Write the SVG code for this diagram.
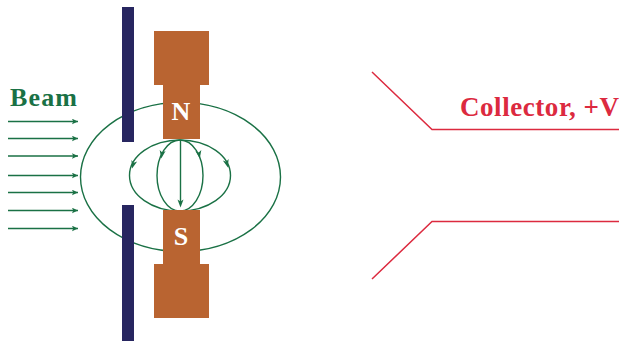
<svg xmlns="http://www.w3.org/2000/svg" width="619" height="345" viewBox="0 0 619 345">
<style>
.plate{fill:#272660}
.mag{fill:#b96431}
.fl{fill:none;stroke:#1a7145;stroke-width:1.4}
.ray{fill:none;stroke:#1a7145;stroke-width:1.3;marker-end:url(#a)}
.red{fill:none;stroke:#dc2a3f;stroke-width:1.5}
text{font-family:"Liberation Serif",serif;font-weight:bold}
.pole{font-size:26px;fill:#fff;text-anchor:middle}
</style>
<defs>
<marker id="a" markerUnits="userSpaceOnUse" markerWidth="7" markerHeight="6" refX="6" refY="3" orient="auto"><path d="M0 0.2L6 3L0 5.800L1.200 3Z" fill="#1a7145"/></marker>
<path id="h" d="M-3 -6.500L0 -4.500L3 -6.500L0 1.500Z" fill="#1a7145"/>
</defs>
<g id="connectors">
<ellipse class="fl" cx="180.500" cy="177" rx="100" ry="74.500"/>
<ellipse class="fl" cx="180" cy="175.500" rx="50.500" ry="35.500"/>
<ellipse class="fl" cx="180" cy="175.500" rx="23" ry="35.500"/>
<path class="fl" d="M180.500 140V203"/>
<use href="#h" transform="translate(180.500 206)"/>
<use href="#h" transform="translate(132.500 167) rotate(16)"/>
<use href="#h" transform="translate(161.500 157) rotate(10)"/>
<use href="#h" transform="translate(199.500 157) rotate(-10)"/>
<use href="#h" transform="translate(227.500 166) rotate(-16)"/>
<path class="ray" d="M8 121.500H78"/>
<path class="ray" d="M8 138.500H78"/>
<path class="ray" d="M8 156H78"/>
<path class="ray" d="M8 175.500H78"/>
<path class="ray" d="M8 192.500H78"/>
<path class="ray" d="M8 210.500H78"/>
<path class="ray" d="M8 228.500H78"/>
</g>
<g id="plate-top"><rect class="plate" x="122" y="7" width="12" height="135"/></g>
<g id="plate-bottom"><rect class="plate" x="122" y="205" width="12" height="136"/></g>
<g id="magnet-n"><path class="mag" d="M154 31H209V85H200V139H163V85H154Z"/><text class="pole" x="181" y="120">N</text></g>
<g id="magnet-s"><path class="mag" d="M163 210H200V264H209V318H154V264H163Z"/><text class="pole" x="181" y="245">S</text></g>
<g id="beam-label"><text x="10" y="106" font-size="26" fill="#1a7145" textLength="67" lengthAdjust="spacing">Beam</text></g>
<g id="collector">
<path class="red" d="M372 72L432 129.500H619"/>
<path class="red" d="M372 279L432 221.500H619"/>
<text x="460" y="116" font-size="27" fill="#dc2a3f" textLength="159" lengthAdjust="spacing">Collector, +V</text>
</g>
</svg>
